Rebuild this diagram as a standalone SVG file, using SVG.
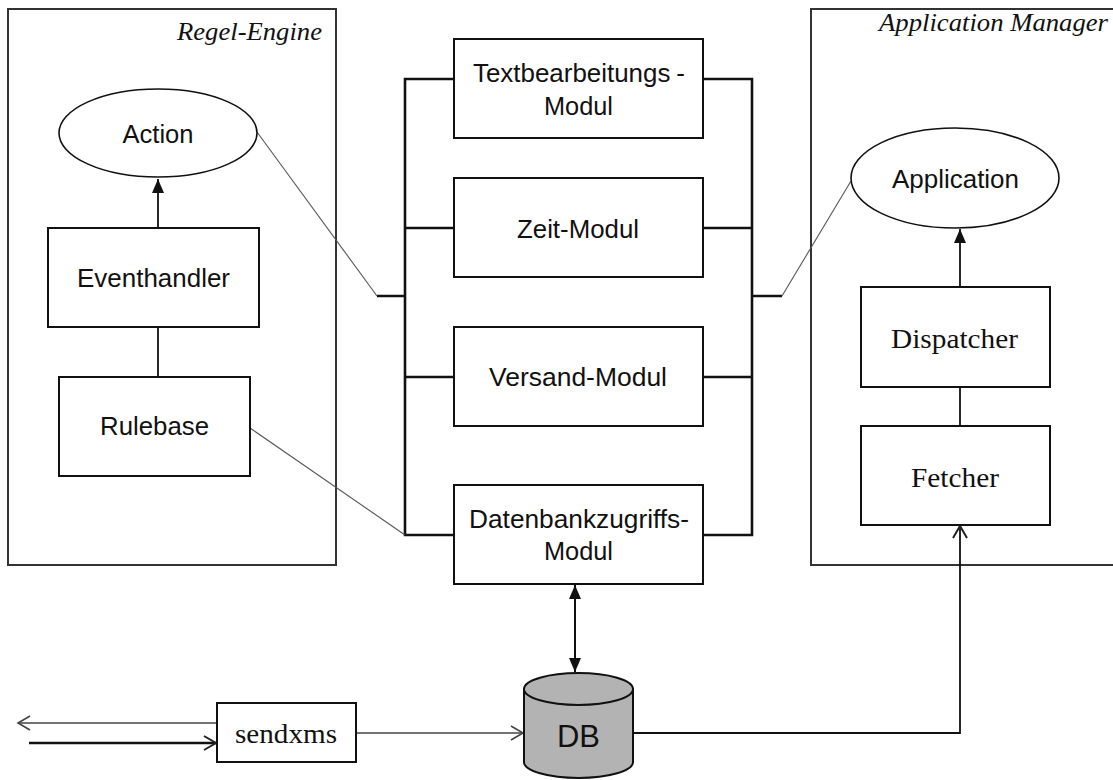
<svg xmlns="http://www.w3.org/2000/svg" width="1113" height="780" viewBox="0 0 1113 780">
  <style>
    .frame { fill: none; stroke: #333; stroke-width: 2; }
    .box { fill: #fff; stroke: #111; stroke-width: 2; }
    .oval { fill: #fff; stroke: #111; stroke-width: 1.6; }
    .bus { fill: none; stroke: #111; stroke-width: 2.6; }
    .thin { fill: none; stroke: #555; stroke-width: 1.1; }
    .link { fill: none; stroke: #111; stroke-width: 1.8; }
    .sans { font-family: "Liberation Sans", Arial, sans-serif; font-size: 26px; fill: #111; text-anchor: middle; }
    .serif { font-family: "Liberation Serif", "Times New Roman", serif; font-size: 28px; fill: #111; text-anchor: middle; }
    .title { font-family: "Liberation Serif", "Times New Roman", serif; font-size: 26px; font-style: italic; fill: #111; text-anchor: end; }
  </style>
  <defs>
    <marker id="solid" markerUnits="userSpaceOnUse" viewBox="0 0 14 14" markerWidth="14" markerHeight="14" refX="14" refY="7" orient="auto-start-reverse">
      <path d="M0,1 L14,7 L0,13 Z" fill="#111"/>
    </marker>
    <marker id="open" markerUnits="userSpaceOnUse" viewBox="0 0 16 18" markerWidth="16" markerHeight="18" refX="14" refY="9" orient="auto">
      <path d="M2,2 L14,9 L2,16" fill="none" stroke="#222" stroke-width="2"/>
    </marker>
    <marker id="openThin" markerUnits="userSpaceOnUse" viewBox="0 0 16 18" markerWidth="16" markerHeight="18" refX="14" refY="9" orient="auto">
      <path d="M2,2 L14,9 L2,16" fill="none" stroke="#444" stroke-width="1.6"/>
    </marker>
  </defs>

  <!-- rule engine frame -->
  <g id="regel-engine">
    <rect class="frame" x="8" y="9" width="328" height="556"/>
    <text class="title" x="322" y="40" textLength="145" lengthAdjust="spacingAndGlyphs">Regel-Engine</text>
  </g>

  <!-- application manager frame (runs off the right edge) -->
  <g id="application-manager">
    <path class="frame" d="M1120,9 L811,9 L811,565 L1120,565"/>
    <text class="title" x="1108" y="31" textLength="229" lengthAdjust="spacingAndGlyphs">Application Manager</text>
  </g>

  <!-- connectors -->
  <g id="connectors">
    <!-- module bus, left and right -->
    <path class="bus" d="M454,79 H405 V535 H454 M405,228 H454 M405,377 H454 M377,296 H405"/>
    <path class="bus" d="M703,79 H752 V535 H703 M752,228 H703 M752,377 H703 M752,296 H782"/>
    <!-- thin links into the bus -->
    <path class="thin" d="M257,132 L377,296"/>
    <path class="thin" d="M250,428 L405,535"/>
    <path class="thin" d="M782,296 L851,181"/>
    <!-- rule engine internals -->
    <path class="link" d="M158,228 V179" marker-end="url(#solid)"/>
    <path class="link" d="M158,327 V377"/>
    <!-- application manager internals -->
    <path class="link" d="M960,287 V229" marker-end="url(#solid)"/>
    <path class="link" d="M960,387 V426"/>
    <!-- database access, both directions -->
    <path class="link" d="M575,585 V672" marker-start="url(#solid)" marker-end="url(#solid)" style="stroke-width:2"/>
    <!-- DB to fetcher -->
    <path class="link" d="M633,733 H960 V526" marker-end="url(#open)"/>
    <!-- sendxms to DB -->
    <path class="thin" d="M356,733 H523" marker-end="url(#openThin)" style="stroke:#444;stroke-width:1.4"/>
    <!-- external in/out -->
    <path class="thin" d="M217,723 H18" marker-end="url(#openThin)" style="stroke:#444;stroke-width:1.6"/>
    <path class="link" d="M29,743 H216" marker-end="url(#open)" style="stroke-width:2.6"/>
  </g>

  <g id="action">
    <ellipse class="oval" cx="158" cy="133" rx="99" ry="44"/>
    <text class="sans" x="158" y="143" textLength="71" lengthAdjust="spacingAndGlyphs">Action</text>
  </g>
  <g id="eventhandler">
    <rect class="box" x="48" y="228" width="211" height="99"/>
    <text class="sans" x="153.5" y="287" textLength="153" lengthAdjust="spacingAndGlyphs">Eventhandler</text>
  </g>
  <g id="rulebase">
    <rect class="box" x="59" y="377" width="191" height="99"/>
    <text class="sans" x="154.5" y="435" textLength="109" lengthAdjust="spacingAndGlyphs">Rulebase</text>
  </g>

  <g id="textbearbeitungs-modul">
    <rect class="box" x="454" y="39" width="249" height="99"/>
    <text class="sans" x="579" y="82" textLength="212" lengthAdjust="spacingAndGlyphs">Textbearbeitungs<tspan dx="6">-</tspan></text>
    <text class="sans" x="578.5" y="115" textLength="69" lengthAdjust="spacingAndGlyphs">Modul</text>
  </g>
  <g id="zeit-modul">
    <rect class="box" x="454" y="178" width="249" height="99"/>
    <text class="sans" x="578" y="238" textLength="122" lengthAdjust="spacingAndGlyphs">Zeit-Modul</text>
  </g>
  <g id="versand-modul">
    <rect class="box" x="454" y="327" width="249" height="99"/>
    <text class="sans" x="578" y="386" textLength="178" lengthAdjust="spacingAndGlyphs">Versand-Modul</text>
  </g>
  <g id="datenbankzugriffs-modul">
    <rect class="box" x="454" y="485" width="249" height="99"/>
    <text class="sans" x="579" y="528" textLength="220" lengthAdjust="spacingAndGlyphs">Datenbankzugriffs-</text>
    <text class="sans" x="578.5" y="560" textLength="69" lengthAdjust="spacingAndGlyphs">Modul</text>
  </g>

  <g id="application">
    <ellipse class="oval" cx="955" cy="178" rx="104" ry="50"/>
    <text class="sans" x="955.5" y="188" textLength="127" lengthAdjust="spacingAndGlyphs">Application</text>
  </g>
  <g id="dispatcher">
    <rect class="box" x="861" y="287" width="189" height="100"/>
    <text class="serif" x="954.5" y="348" textLength="127" lengthAdjust="spacingAndGlyphs">Dispatcher</text>
  </g>
  <g id="fetcher">
    <rect class="box" x="861" y="426" width="189" height="99"/>
    <text class="serif" x="955" y="487" textLength="88" lengthAdjust="spacingAndGlyphs">Fetcher</text>
  </g>

  <g id="sendxms">
    <rect class="box" x="217" y="703" width="139" height="59"/>
    <text class="serif" x="286" y="743" textLength="102" lengthAdjust="spacingAndGlyphs">sendxms</text>
  </g>

  <g id="db">
    <path d="M524,689 L524,762 A54.5,16 0 0 0 633,762 L633,689 Z" fill="#b3b3b3" stroke="#111" stroke-width="2"/>
    <ellipse cx="578.5" cy="689" rx="54.5" ry="16" fill="#b3b3b3" stroke="#111" stroke-width="2"/>
    <text class="sans" x="578.5" y="747" style="font-size:31px" textLength="43" lengthAdjust="spacingAndGlyphs">DB</text>
  </g>
</svg>
